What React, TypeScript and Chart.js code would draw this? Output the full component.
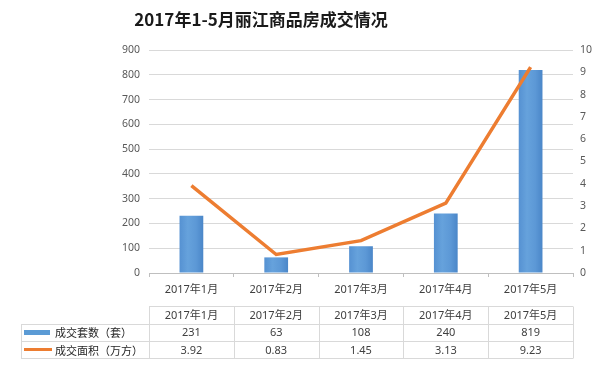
import React, { useEffect, useRef } from "react";
import { Chart, registerables } from "chart.js";

Chart.register(...registerables);

const chartTitle = "2017年1-5月丽江商品房成交情况";
const categories = ["2017年1月", "2017年2月", "2017年3月", "2017年4月", "2017年5月"];
const unitsSold = [231, 63, 108, 240, 819];
const areaSold = [3.92, 0.83, 1.45, 3.13, 9.23];
const areaLabels = ["3.92", "0.83", "1.45", "3.13", "9.23"];
const seriesNames = ["成交套数（套）", "成交面积（万方）"];
const leftAxis = { min: 0, max: 900, step: 100 };
const rightAxis = { min: 0, max: 10, step: 1 };

const BLUE = "#5B9BD5";
const ORANGE = "#ED7D31";
const GRID = "#D9D9D9";
const TEXT = "#595959";
const FONT = '"Noto Sans", "Noto Sans CJK SC", sans-serif';

const tablePlugin = {
  id: "tablePlugin",
  afterDraw(chart: any) {
    const ctx = chart.ctx as CanvasRenderingContext2D;
    const area = chart.chartArea;
    const xs = chart.scales.x;
    const n = categories.length;
    const left = area.left;
    const right = area.right;
    const band = (right - left) / n;
    const legendLeft = 21;
    const rows = [306, 323.5, 341, 358];

    ctx.save();
    ctx.fillStyle = "#1a1a1a";
    ctx.font = 'bold 17px "Noto Sans CJK SC", sans-serif';
    ctx.textAlign = "center";
    ctx.textBaseline = "middle";
    ctx.fillText(chartTitle, 261, 20);

    ctx.strokeStyle = GRID;
    ctx.lineWidth = 1;
    ctx.beginPath();
    const ry = rows.map((r) => Math.round(r) + 0.5);
    ctx.moveTo(left, ry[0]);
    ctx.lineTo(right, ry[0]);
    for (let i = 1; i < ry.length; i++) {
      ctx.moveTo(legendLeft, ry[i]);
      ctx.lineTo(right, ry[i]);
    }
    ctx.moveTo(legendLeft + 0.5, ry[1]);
    ctx.lineTo(legendLeft + 0.5, ry[3]);
    for (let i = 0; i <= n; i++) {
      const x = Math.round(left + band * i) + 0.5;
      ctx.moveTo(x, ry[0]);
      ctx.lineTo(x, ry[3]);
    }
    ctx.stroke();

    ctx.font = `11px ${FONT}`;
    ctx.fillStyle = "#404040";
    ctx.textAlign = "center";
    ctx.textBaseline = "middle";
    for (let i = 0; i < n; i++) {
      const cx = xs.getPixelForValue(i);
      ctx.fillText(categories[i], cx, (rows[0] + rows[1]) / 2 + 1);
      ctx.fillText(String(unitsSold[i]), cx, (rows[1] + rows[2]) / 2 + 1);
      ctx.fillText(areaLabels[i], cx, (rows[2] + rows[3]) / 2 + 1);
    }

    ctx.fillStyle = BLUE;
    ctx.fillRect(24, 330, 26, 5);
    ctx.strokeStyle = ORANGE;
    ctx.lineWidth = 3;
    ctx.beginPath();
    ctx.moveTo(24, 349.5);
    ctx.lineTo(52, 349.5);
    ctx.stroke();

    ctx.fillStyle = "#262626";
    ctx.textAlign = "left";
    ctx.font = `11px "Noto Sans CJK SC", sans-serif`;
    ctx.fillText(seriesNames[0], 55, (rows[1] + rows[2]) / 2 + 1);
    ctx.fillText(seriesNames[1], 55, (rows[2] + rows[3]) / 2 + 1);
    ctx.restore();
  },
};

export default function App() {
  const ref = useRef<HTMLCanvasElement | null>(null);

  useEffect(() => {
    if (!ref.current) return;
    const chart = new Chart(ref.current, {
      type: "bar",
      data: {
        labels: categories,
        datasets: [
          {
            type: "line",
            label: seriesNames[1],
            data: areaSold,
            yAxisID: "y1",
            borderColor: ORANGE,
            borderWidth: 3.5,
            pointRadius: 0,
            tension: 0,
            order: 0,
          } as any,
          {
            type: "bar",
            label: seriesNames[0],
            data: unitsSold,
            yAxisID: "y",
            backgroundColor: (c: any) => {
              const ch = c.chart;
              const xs = ch.scales && ch.scales.x;
              if (!ch.chartArea || !xs || c.dataIndex === undefined) return BLUE;
              const cx = xs.getPixelForValue(c.dataIndex);
              const g = ch.ctx.createLinearGradient(cx - 12, 0, cx + 12, 0);
              g.addColorStop(0, "#5591D2");
              g.addColorStop(0.35, "#66A2DC");
              g.addColorStop(0.7, "#5C98D6");
              g.addColorStop(1, "#4A86C8");
              return g;
            },
            categoryPercentage: 1,
            barPercentage: 0.28,
            order: 1,
          },
        ],
      },
      options: {
        responsive: false,
        animation: false,
        layout: { padding: { top: 50, bottom: 70, left: 0, right: 0 } },
        plugins: {
          legend: { display: false },
          title: { display: false },
          tooltip: { enabled: false },
        },
        scales: {
          x: {
            grid: { display: true, drawOnChartArea: false, drawTicks: true, tickLength: 4, color: "#BFBFBF", offset: true },
            border: { display: true, color: "#BFBFBF" },
            ticks: { color: "#404040", font: { family: FONT, size: 11 }, padding: 6, maxRotation: 0 },
            afterFit: (s: any) => {
              s.height = 30;
            },
          },
          y: {
            position: "left",
            min: leftAxis.min,
            max: leftAxis.max,
            ticks: { stepSize: leftAxis.step, color: TEXT, font: { family: FONT, size: 10.5 }, padding: 9 },
            grid: { color: GRID, drawTicks: false },
            border: { display: false },
            afterFit: (s: any) => {
              s.width = 149;
            },
          },
          y1: {
            position: "right",
            min: rightAxis.min,
            max: rightAxis.max,
            ticks: { stepSize: rightAxis.step, color: TEXT, font: { family: FONT, size: 10.5 }, padding: 7 },
            grid: { display: false, drawTicks: false },
            border: { display: false },
            afterFit: (s: any) => {
              s.width = 27;
            },
          },
        },
      } as any,
      plugins: [tablePlugin],
    });
    return () => chart.destroy();
  }, []);

  return (
    <div style={{ position: "fixed", left: 0, top: 0, width: 600, height: 373, background: "#fff" }}>
      <canvas ref={ref} width={600} height={373} />
    </div>
  );
}
